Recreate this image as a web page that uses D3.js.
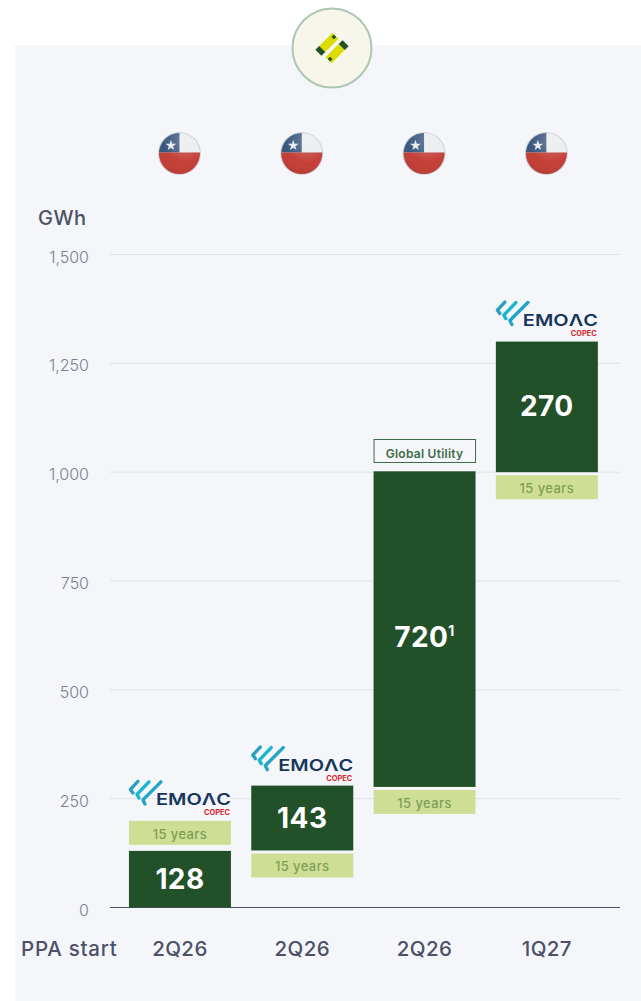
<!DOCTYPE html>
<html><head><meta charset="utf-8">
<script src="https://cdn.jsdelivr.net/npm/d3@7"></script>
<style>html,body{margin:0;padding:0;background:#fff}svg{display:block}text{font-family:Inter,"Noto Sans",sans-serif}</style>
</head><body><svg id="c" width="641" height="1001"></svg>
<script>
const quarters = ["2Q26","2Q26","2Q26","1Q27"];
const labels = ["128","143","720","270"];
const barStart = [0,131,277,1000];
const barEnd = [130,280,1002,1300];
const tagText = ["15 years","15 years","15 years","15 years"];
const tagAbove = [true,false,false,false];
const hasLogo = [true,true,false,true];
const tickValues = [0,250,500,750,1000,1250,1500];

const svg = d3.select("#c");
const defs = svg.append("defs");
const y = d3.scaleLinear().domain([0,1500]).range([907.5,254.5]);
const x = d3.scaleBand().domain(d3.range(4)).range([118.8,608]).paddingInner(0.166).paddingOuter(0.083);

svg.append("rect").attr("x",15).attr("y",45).attr("width",626).attr("height",956).attr("fill","#f4f6f9");

// top badge
svg.append("circle").attr("cx",332).attr("cy",48).attr("r",39.5).attr("fill","#f6f6ea").attr("stroke","#aec6b4").attr("stroke-width",2);
const badge = svg.append("g").attr("transform","translate(332,48) rotate(-45)");
[[-7.5,-10.5,18.5,8.5,"#dcdc00"],[-11,2,18.5,8.5,"#dcdc00"],[-13,-10.5,5.5,8.5,"#225129"],[7.5,2,5.5,8.5,"#225129"],
 [7.5,-8.2,3.4,3.4,"#225129"],[-10.9,4.8,3.4,3.4,"#225129"]].forEach(r=>
  badge.append("rect").attr("x",r[0]).attr("y",r[1]).attr("width",r[2]).attr("height",r[3]).attr("fill",r[4]));

// flags
const shine = defs.append("radialGradient").attr("id","shine").attr("cx",.62).attr("cy",.2).attr("r",.95);
shine.append("stop").attr("offset",0).attr("stop-color","#fff").attr("stop-opacity",.28);
shine.append("stop").attr("offset",.55).attr("stop-color","#fff").attr("stop-opacity",.03);
shine.append("stop").attr("offset",1).attr("stop-color","#000").attr("stop-opacity",.12);
defs.append("clipPath").attr("id","flagClip").append("circle").attr("r",20.5);
const starPath = d3.symbol().type(d3.symbolStar).size(36)();
const flags = svg.selectAll("g.flag").data(d3.range(4)).join("g").attr("class","flag")
  .attr("transform",i=>`translate(${x(i)+x.bandwidth()/2-.5},153.5)`);
flags.append("circle").attr("r",21.5).attr("fill","#cfd2da");
const fi = flags.append("g").attr("clip-path","url(#flagClip)");
fi.append("rect").attr("x",-21).attr("y",-21).attr("width",42).attr("height",20).attr("fill","#e9ebed");
fi.append("rect").attr("x",-21).attr("y",-21).attr("width",21).attr("height",20).attr("fill","#34527a");
fi.append("rect").attr("x",-21).attr("y",-1).attr("width",42).attr("height",22).attr("fill","#c23a31");
fi.append("path").attr("d",starPath).attr("transform","translate(-8.5,-8)").attr("fill","#e8eaee");
fi.append("rect").attr("x",-21).attr("y",-21).attr("width",42).attr("height",42).attr("fill","url(#shine)");

// grid + axis
svg.selectAll("line.grid").data(tickValues.slice(1)).join("line").attr("class","grid")
  .attr("x1",110).attr("x2",620).attr("y1",d=>y(d)).attr("y2",d=>y(d)).attr("stroke","#dfe2e8").attr("stroke-width",1);
svg.append("line").attr("x1",110).attr("x2",620).attr("y1",y(0)).attr("y2",y(0)).attr("stroke","#4d5068").attr("stroke-width",1);
svg.selectAll("text.tick").data(tickValues).join("text").attr("class","tick")
  .attr("x",89).attr("y",d=>y(d)+8).attr("text-anchor","end").attr("font-size",16).attr("font-weight",300).attr("fill","#7b7e92")
  .text(d3.format(","));
svg.append("text").attr("x",38).attr("y",225).attr("font-size",20).attr("font-weight",500).attr("letter-spacing",.5).attr("fill","#4d5068").text("GWh");

// bars
const barG = svg.selectAll("g.bar").data(d3.range(4)).join("g").attr("class","bar");
barG.append("rect").attr("x",i=>x(i)).attr("width",x.bandwidth())
  .attr("y",i=>y(barEnd[i])).attr("height",i=>y(barStart[i])-y(barEnd[i])).attr("fill","#225029");
barG.append("text").attr("x",i=>x(i)+x.bandwidth()/2).attr("y",i=>(y(barEnd[i])+y(barStart[i]))/2+(i===2?17.5:i===3?9:10))
  .attr("text-anchor","middle").attr("font-size",28).attr("font-weight",700).attr("letter-spacing",.4).attr("fill","#fff")
  .each(function(d,i){
    const t=d3.select(this); t.append("tspan").text(labels[i]);
    if(i===2) t.append("tspan").attr("font-size",14).attr("dy",-11).text("1");
  });
// tags
const tagY = i => tagAbove[i] ? y(barEnd[i])-30 : y(barStart[i])+3;
barG.append("rect").attr("x",i=>x(i)).attr("width",x.bandwidth()).attr("y",tagY).attr("height",24).attr("fill","#cede95");
barG.append("text").attr("x",i=>x(i)+x.bandwidth()/2).attr("y",i=>tagY(i)+18).attr("text-anchor","middle")
  .attr("font-size",13).attr("font-weight",500).attr("letter-spacing",.4).attr("fill","#7f9e55").text(i=>tagText[i]);

// Global Utility box
svg.append("rect").attr("x",x(2)+.5).attr("y",439.5).attr("width",x.bandwidth()-.5).attr("height",23).attr("fill","#f6f7fa").attr("stroke","#3e6a4a").attr("stroke-width",1);
svg.append("text").attr("x",x(2)+x.bandwidth()/2).attr("y",458).attr("text-anchor","middle").attr("font-size",12).attr("font-weight",600).attr("letter-spacing",.25).attr("fill","#3f6b4a").text("Global Utility");

// Emoac logos
const logos = svg.selectAll("g.logo").data(d3.range(4).filter(i=>hasLogo[i])).join("g").attr("class","logo")
  .attr("transform",i=>`translate(${x(i)},${y(barEnd[i])-(i===0?71:i===1?40:41)})`);
logos.each(function(){
  const g=d3.select(this);
  const strokes=[["M4,13 L1.5,9.5 L9,1.5","#2a9fc0"],["M10,18 L8,14.5 L20,2","#18b6cf"],["M16,24 L14,20 L32,2","#22a4c6"]];
  strokes.forEach(s=>g.append("path").attr("d",s[0]).attr("fill","none").attr("stroke",s[1]).attr("stroke-width",3.4).attr("stroke-linecap","round").attr("stroke-linejoin","round"));
  g.append("text").attr("x",27).attr("y",25.5).attr("font-size",16).attr("font-weight",600).attr("fill","#17365d").attr("textLength",75).attr("lengthAdjust","spacingAndGlyphs").text("EMOΛC");
  g.append("text").attr("x",75).attr("y",35.5).attr("font-size",7).attr("font-weight",700).attr("fill","#d8232a").attr("textLength",26).attr("lengthAdjust","spacingAndGlyphs").text("COPEC");
});

// bottom categories
svg.append("text").attr("x",21).attr("y",956).attr("font-size",20.5).attr("font-weight",500).attr("letter-spacing",.75).attr("fill","#4d5068").text("PPA start");
svg.selectAll("text.cat").data(d3.range(4)).join("text").attr("class","cat")
  .attr("x",i=>x(i)+x.bandwidth()/2).attr("y",956).attr("text-anchor","middle").attr("font-size",20.5).attr("font-weight",500).attr("letter-spacing",.4).attr("fill","#4d5068").text(i=>quarters[i]);
</script></body></html>
